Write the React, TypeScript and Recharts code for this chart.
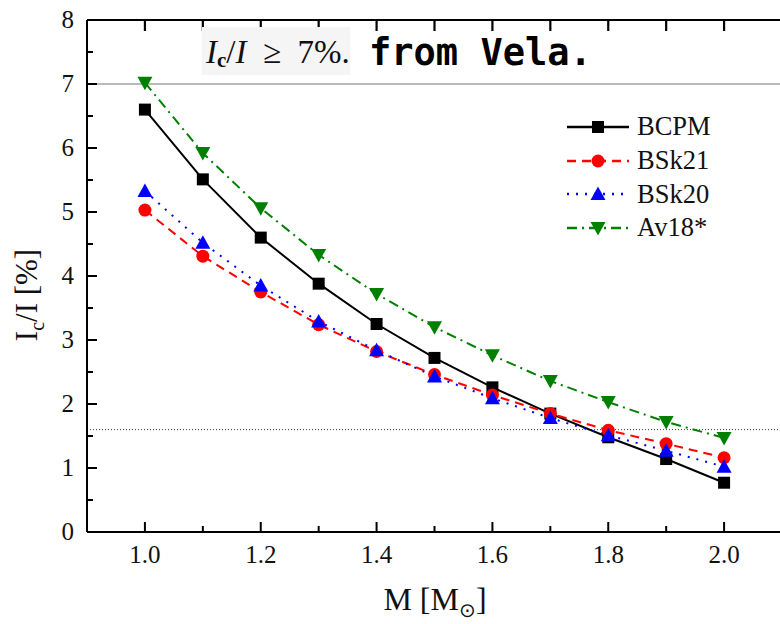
import React from 'react'
import { LineChart, Line, XAxis, YAxis, ReferenceLine } from 'recharts'

const masses = [1.0, 1.1, 1.2, 1.3, 1.4, 1.5, 1.6, 1.7, 1.8, 1.9, 2.0]
const bcpm = [6.6, 5.51, 4.6, 3.88, 3.25, 2.72, 2.26, 1.85, 1.48, 1.14, 0.77]
const bsk21 = [5.03, 4.31, 3.75, 3.24, 2.82, 2.46, 2.14, 1.85, 1.59, 1.38, 1.16]
const bsk20 = [5.33, 4.52, 3.85, 3.29, 2.84, 2.43, 2.09, 1.78, 1.51, 1.27, 1.02]
const av18 = [7.02, 5.92, 5.06, 4.33, 3.72, 3.2, 2.76, 2.36, 2.03, 1.72, 1.47]

const xTicks = [1.0, 1.1, 1.2, 1.3, 1.4, 1.5, 1.6, 1.7, 1.8, 1.9, 2.0]
const xLabels = ['1.0', '', '1.2', '', '1.4', '', '1.6', '', '1.8', '', '2.0']
const yTicks = [0, 0.5, 1, 1.5, 2, 2.5, 3, 3.5, 4, 4.5, 5, 5.5, 6, 6.5, 7, 7.5, 8]
const yLabels = ['0', '', '1', '', '2', '', '3', '', '4', '', '5', '', '6', '', '7', '', '8']
const velaLimit = 7
const glitchLine = 1.6
const yMax = 8

const data = masses.map((m, i) => ({ m, BCPM: bcpm[i], BSk21: bsk21[i], BSk20: bsk20[i], 'Av18*': av18[i], frame: yMax }))

const SERIF = '"Liberation Serif", "Times New Roman", serif'

type Shape = 'square' | 'circle' | 'up' | 'down'
const series: { key: string; color: string; dash?: string; shape: Shape }[] = [
  { key: 'BCPM', color: '#000000', shape: 'square' },
  { key: 'BSk21', color: '#ff0000', dash: '9 6', shape: 'circle' },
  { key: 'BSk20', color: '#0000ff', dash: '2 7', shape: 'up' },
  { key: 'Av18*', color: '#008000', dash: '10 5 2 5', shape: 'down' },
]

function Marker({ cx, cy, shape, color }: { cx: number; cy: number; shape: Shape; color: string }) {
  if (shape === 'square') return <rect x={cx - 6} y={cy - 6} width={12} height={12} fill={color} />
  if (shape === 'circle') return <circle cx={cx} cy={cy} r={6.5} fill={color} />
  if (shape === 'up') return <polygon points={`${cx - 7.5},${cy + 6} ${cx + 7.5},${cy + 6} ${cx},${cy - 7.5}`} fill={color} />
  return <polygon points={`${cx - 7.5},${cy - 6} ${cx + 7.5},${cy - 6} ${cx},${cy + 7.5}`} fill={color} />
}

// ticks drawn inward by hand, labels outside
function makeTick(side: 'left' | 'right' | 'bottom') {
  return (p: any) => {
    const { x, y, payload, index } = p
    const v = payload.value
    let major: boolean
    let label = ''
    if (side === 'left' || side === 'right') {
      major = Number.isInteger(v)
      label = yLabels[index] ?? ''
    } else {
      major = Math.round(v * 10) % 2 === 0
      label = xLabels[index] ?? ''
    }
    const len = major ? 10 : 6
    if (side === 'left')
      return (
        <g>
          <line x1={x} x2={x + len} y1={y} y2={y} stroke="#000" strokeWidth={2} />
          <text x={x - 13} y={y + 8} textAnchor="end" fontSize={25} fontFamily={SERIF} fill="#111">{label}</text>
        </g>
      )
    if (side === 'right') return <line x1={x} x2={x - len} y1={y} y2={y} stroke="#000" strokeWidth={2} />
    return (
      <g>
        <line x1={x} x2={x} y1={y} y2={y - len} stroke="#000" strokeWidth={2} />
        <text x={x} y={y + 31} textAnchor="middle" fontSize={25} fontFamily={SERIF} fill="#111">{label}</text>
      </g>
    )
  }
}

// short downward tick hanging from the top frame
function FrameTick({ cx, cy }: { cx: number; cy: number }) {
  return <path d={`M${cx},${cy} V${cy + 11}`} stroke="#000000" strokeWidth={2.2} fill="none" />
}

function LegendBox() {
  return (
    <div style={{ position: 'absolute', left: 566, top: 110, fontFamily: SERIF, fontSize: 26.5 }}>
      {series.map(s => (
        <div key={s.key} style={{ display: 'flex', alignItems: 'center', height: 33.7 }}>
          <svg width={64} height={24} style={{ display: 'block' }}>
            <line x1={1} x2={63} y1={12} y2={12} stroke={s.color} strokeWidth={2.5} strokeDasharray={s.dash} />
            <Marker cx={32} cy={12} shape={s.shape} color={s.color} />
          </svg>
          <span style={{ marginLeft: 7, color: '#111' }}>{s.key}</span>
        </div>
      ))}
    </div>
  )
}

export default function App() {
  return (
    <div style={{ position: 'absolute', left: 0, top: 0, width: 780, height: 624, overflow: 'hidden', background: '#fff' }}>
      <LineChart width={800} height={624} data={data} margin={{ top: 20, right: 0, bottom: 0, left: 0 }}>
        <XAxis dataKey="m" type="number" domain={[0.9, 2.1]} ticks={xTicks} interval={0} height={92}
          axisLine={{ stroke: '#000', strokeWidth: 2 }} tickLine={false} tickSize={0} tickMargin={0}
          tick={makeTick('bottom')} />
        <YAxis type="number" domain={[0, yMax]} ticks={yTicks} interval={0} width={87}
          axisLine={{ stroke: '#000', strokeWidth: 2 }} tickLine={false} tickSize={0} tickMargin={0}
          tick={makeTick('left')} />
        <YAxis yAxisId="right" orientation="right" type="number" domain={[0, yMax]} ticks={yTicks} interval={0} width={18}
          axisLine={{ stroke: '#000', strokeWidth: 2 }} tickLine={false} tickSize={0} tickMargin={0}
          tick={makeTick('right')} />
        <ReferenceLine y={yMax} stroke="#000" strokeWidth={2} ifOverflow="visible" />
        <ReferenceLine y={velaLimit} stroke="#777" strokeWidth={1.2} />
        <ReferenceLine y={glitchLine} stroke="#444" strokeWidth={1} strokeDasharray="1 2" />
        {series.map(s => (
          <Line key={s.key} type="linear" dataKey={s.key} stroke={s.color} strokeWidth={2} strokeDasharray={s.dash}
            isAnimationActive={false}
            dot={(p: any) => <Marker key={`${s.key}-${p.index}`} cx={p.cx} cy={p.cy} shape={s.shape} color={s.color} />}
            activeDot={false} />
        ))}
        {/* top frame ticks: a line along y = max whose points are drawn as short downward ticks */}
        <Line dataKey="frame" stroke="#000" strokeWidth={0} isAnimationActive={false} activeDot={false} legendType="none"
          dot={(p: any) => <FrameTick key={`ft-${p.index}`} cx={p.cx} cy={p.cy} />} />
      </LineChart>

      <div style={{ position: 'absolute', left: 202, top: 27, width: 148, height: 48, background: '#f5f5f5' }} />
      <div style={{ position: 'absolute', left: 206, top: 27, height: 48, lineHeight: '50px', fontFamily: SERIF, fontSize: 33, color: '#111', whiteSpace: 'nowrap' }}>
        <i>I</i><sub style={{ fontSize: 21, fontWeight: 'bold', verticalAlign: '-4px' }}>c</sub>/<i>I</i>&nbsp;&nbsp;≥&nbsp;&nbsp;7%.
      </div>
      <div style={{ position: 'absolute', left: 369, top: 27, height: 48, lineHeight: '52px', fontFamily: '"DejaVu Sans Mono", monospace', fontWeight: 'bold', fontSize: 37, color: '#000', whiteSpace: 'nowrap' }}>
        from Vela.
      </div>

      <LegendBox />

      <div style={{ position: 'absolute', left: 335, top: 581, width: 200, textAlign: 'center', fontFamily: SERIF, fontSize: 32, color: '#111', lineHeight: '36px' }}>
        M [M<sub style={{ fontSize: 20, verticalAlign: '-7px' }}>⊙</sub>]
      </div>
      <div style={{ position: 'absolute', left: 27 - 100, top: 295 - 18, width: 200, height: 36, textAlign: 'center', lineHeight: '36px', transform: 'rotate(-90deg)', fontFamily: SERIF, fontSize: 31, color: '#111' }}>
        I<sub style={{ fontSize: 20, verticalAlign: '-7px' }}>c</sub>/I [%]
      </div>
    </div>
  )
}
